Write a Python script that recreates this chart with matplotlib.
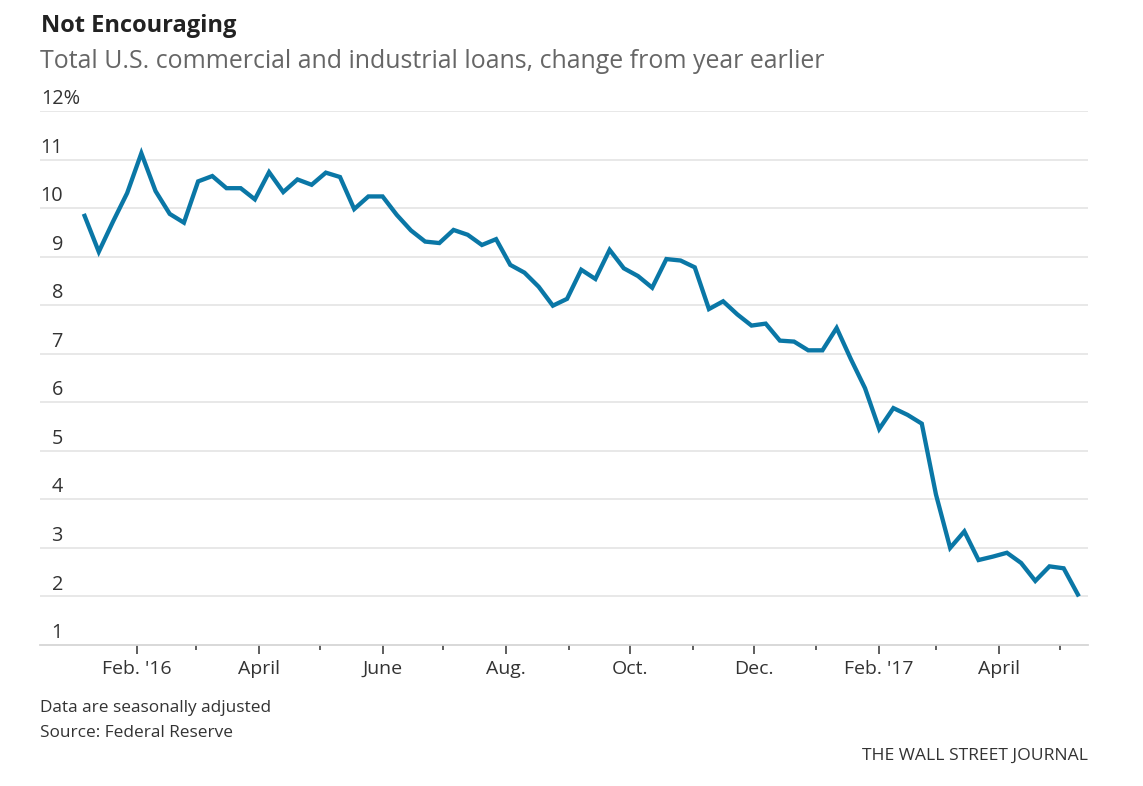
import numpy as np
import pandas as pd
import matplotlib
matplotlib.use("Agg")
import matplotlib.pyplot as plt
import matplotlib.dates as mdates

plt.rcParams['font.family'] = ['Open Sans', 'DejaVu Sans']

# weekly readings, % change from a year earlier
dates = pd.date_range('2016-01-06', periods=71, freq='W-WED')
loans_yoy = [
    9.84, 9.10, 9.72, 10.31, 11.13, 10.35, 9.88, 9.70, 10.55, 10.66,
    10.41, 10.41, 10.18, 10.74, 10.33, 10.59, 10.48, 10.73, 10.64, 9.98,
    10.24, 10.24, 9.86, 9.54, 9.31, 9.28, 9.55, 9.45, 9.24, 9.36,
    8.83, 8.67, 8.38, 7.99, 8.13, 8.73, 8.54, 9.14, 8.76, 8.60,
    8.36, 8.95, 8.92, 8.78, 7.92, 8.08, 7.81, 7.58, 7.62, 7.27,
    7.25, 7.07, 7.07, 7.53, 6.89, 6.29, 5.45, 5.88, 5.74, 5.56,
    4.10, 3.00, 3.34, 2.75, 2.82, 2.90, 2.69, 2.32, 2.62, 2.58,
    2.04,
]

y_ticks = list(range(1, 13))
y_labels = [str(v) for v in y_ticks[:-1]] + ['12%']
x_label_dates = pd.to_datetime(['2016-02-01', '2016-04-01', '2016-06-01', '2016-08-01',
                                '2016-10-01', '2016-12-01', '2017-02-01', '2017-04-01'])
x_labels = ["Feb. '16", 'April', 'June', 'Aug.', 'Oct.', 'Dec.', "Feb. '17", 'April']
x_minor_dates = pd.to_datetime(['2016-03-01', '2016-05-01', '2016-07-01', '2016-09-01',
                                '2016-11-01', '2017-01-01', '2017-03-01', '2017-05-01'])

BLUE = '#0a77a6'
GRID = '#e2e2e2'
TEXT = '#333333'

fig = plt.figure(figsize=(11.43, 7.86), dpi=100)
ax = fig.add_axes([40/1143, 1 - 645/786, 1048/1143, 534/786])

ax.plot(dates, loans_yoy, color=BLUE, lw=3.1, solid_joinstyle='miter', zorder=3)

ax.set_ylim(1, 12)
ax.set_xlim(pd.Timestamp('2015-12-15'), pd.Timestamp('2017-05-15'))

# horizontal grid
for v in y_ticks[1:]:
    ax.axhline(v, color=GRID, lw=1.1, zorder=1)
ax.set_yticks([])

# y labels sit above their grid line
for v, lab in zip(y_ticks, y_labels):
    if lab.endswith('%'):
        ax.annotate(lab, xy=(0, v), xycoords=('axes fraction', 'data'),
                    xytext=(1, 5), textcoords='offset points',
                    ha='left', va='baseline', fontsize=14.3, color=TEXT)
    else:
        ax.annotate(lab, xy=(0, v), xycoords=('axes fraction', 'data'),
                    xytext=(16.5, 5), textcoords='offset points',
                    ha='right', va='baseline', fontsize=14.3, color=TEXT)

for s in ['top', 'right', 'left']:
    ax.spines[s].set_visible(False)
ax.spines['bottom'].set_color('#d6d6d6')
ax.spines['bottom'].set_linewidth(1.3)

ax.set_xticks(x_label_dates)
ax.set_xticklabels(x_labels)
ax.set_xticks(x_minor_dates, minor=True)
ax.tick_params(axis='x', which='major', length=6.5, width=1.1, color=TEXT,
               labelsize=14, labelcolor=TEXT, pad=4)
ax.tick_params(axis='x', which='minor', length=3.5, width=1.1, color=TEXT)

fig.text(41/1143, 1 - 32/786, 'Not Encouraging', fontsize=17, fontweight='bold',
         color='#222222', ha='left', va='baseline')
fig.text(40/1143, 1 - 68/786,
         'Total U.S. commercial and industrial loans, change from year earlier',
         fontsize=17.9, color='#666666', ha='left', va='baseline')
fig.text(40/1143, 1 - 712/786, 'Data are seasonally adjusted', fontsize=12.4,
         color=TEXT, ha='left', va='baseline')
fig.text(40/1143, 1 - 737/786, 'Source: Federal Reserve', fontsize=12.4,
         color=TEXT, ha='left', va='baseline')
fig.text(1088/1143, 1 - 760/786, 'THE WALL STREET JOURNAL', fontsize=12.6,
         color=TEXT, ha='right', va='baseline')

fig.savefig('out.png', dpi=100)
